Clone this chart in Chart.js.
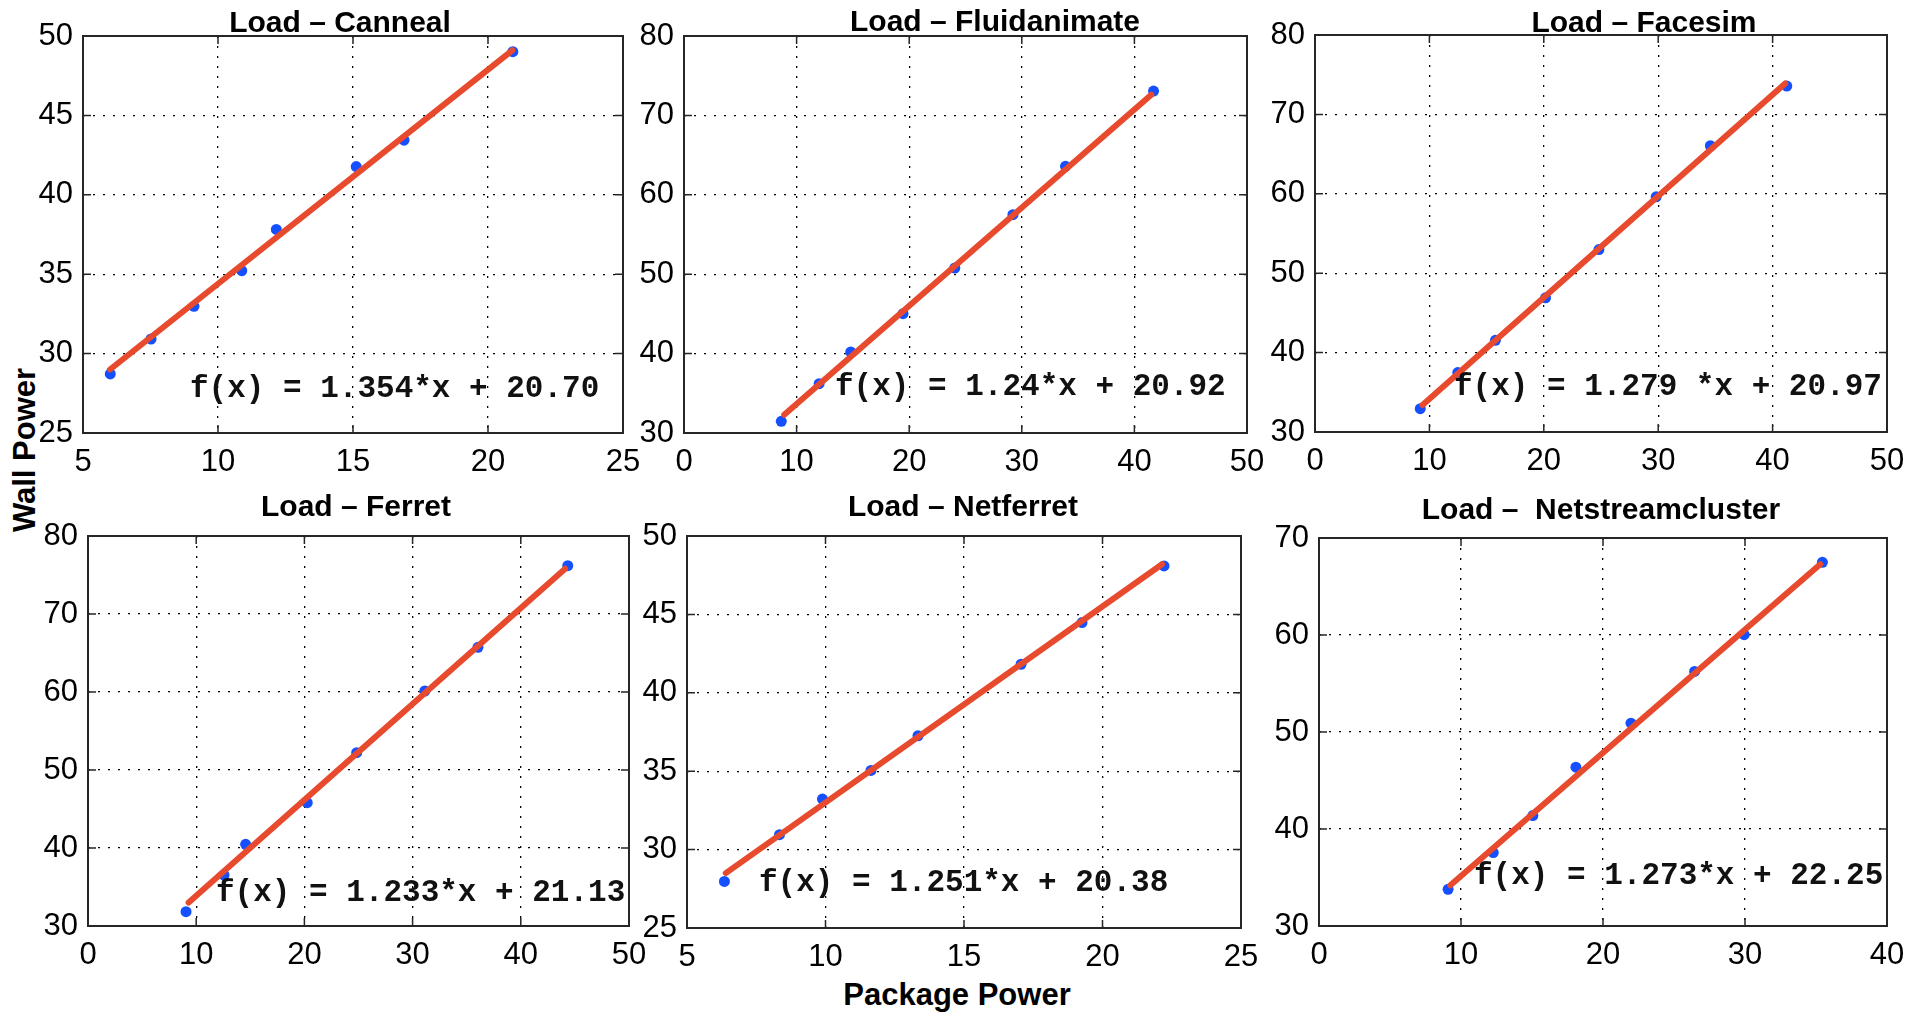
<!DOCTYPE html>
<html><head><meta charset="utf-8">
<script src="https://cdn.jsdelivr.net/npm/chart.js@4.4.1/dist/chart.umd.min.js"></script>
<style>
html,body{margin:0;padding:0;background:#fff;}
body{width:1925px;height:1013px;position:relative;overflow:hidden;}
canvas{position:absolute;}
.lbl{position:absolute;font-family:"Liberation Sans",Arial,sans-serif;font-weight:bold;font-size:31px;line-height:1;color:#000;white-space:nowrap;}
</style></head><body>
<div class="lbl" id="ylab" style="left:24px;top:450px;transform:translate(-50%,-50%) rotate(-90deg);">Wall Power</div>
<div class="lbl" id="xlab" style="left:957px;top:979px;transform:translateX(-50%);">Package Power</div>
<script>
// ---- data ----
const titles = ['Load \u2013 Canneal', 'Load \u2013 Fluidanimate', 'Load \u2013 Facesim',
                'Load \u2013 Ferret', 'Load \u2013 Netferret', 'Load \u2013  Netstreamcluster'];
const fitLabels = ['f(x) = 1.354*x + 20.70', 'f(x) = 1.24*x + 20.92', 'f(x) = 1.279 *x + 20.97',
                   'f(x) = 1.233*x + 21.13', 'f(x) = 1.251*x + 20.38', 'f(x) = 1.273*x + 22.25'];

const cannealX = [6.01, 7.52, 9.11, 10.88, 12.16, 15.12, 16.89, 20.92];
const cannealY = [28.72, 30.92, 32.98, 35.22, 37.82, 41.78, 43.44, 49.01];
const cannealFitX = [6.0, 20.9];
const cannealFitY = [29.0, 49.1];

const fluidX = [8.64, 12.0, 14.81, 19.45, 24.05, 29.21, 33.88, 41.7];
const fluidY = [31.47, 36.21, 40.2, 45.03, 50.78, 57.5, 63.59, 73.07];
const fluidFitX = [8.9, 41.5];
const fluidFitY = [32.3, 72.6];

const facesimX = [9.2, 12.48, 15.77, 20.15, 24.82, 29.82, 34.56, 41.24];
const facesimY = [32.94, 37.48, 41.55, 46.9, 52.98, 59.62, 66.05, 73.57];
const facesimFitX = [9.4, 41.1];
const facesimFitY = [33.4, 73.9];

const ferretX = [9.06, 12.57, 14.57, 20.26, 24.83, 31.13, 36.04, 44.34];
const ferretY = [31.84, 36.54, 40.47, 45.81, 52.22, 60.13, 65.73, 76.2];
const ferretFitX = [9.3, 44.1];
const ferretFitY = [33.0, 75.8];

const netferretX = [6.35, 8.34, 9.89, 11.64, 13.34, 17.06, 19.26, 22.22];
const netferretY = [27.97, 30.95, 33.22, 35.05, 37.26, 41.82, 44.48, 48.09];
const netferretFitX = [6.4, 22.15];
const netferretFitY = [28.5, 48.2];

const nscX = [9.09, 12.27, 15.06, 18.09, 21.97, 26.45, 29.94, 35.45];
const nscY = [33.78, 37.57, 41.38, 46.37, 50.91, 56.24, 60.03, 67.49];
const nscFitX = [9.25, 35.3];
const nscFitY = [34.2, 67.3];

const seriesX = [cannealX, fluidX, facesimX, ferretX, netferretX, nscX];
const seriesY = [cannealY, fluidY, facesimY, ferretY, netferretY, nscY];
const fitX = [cannealFitX, fluidFitX, facesimFitX, ferretFitX, netferretFitX, nscFitX];
const fitY = [cannealFitY, fluidFitY, facesimFitY, ferretFitY, netferretFitY, nscFitY];

const xMin = [5, 0, 0, 0, 5, 0];
const xMax = [25, 50, 50, 50, 25, 40];
const xStep = [5, 10, 10, 10, 5, 10];
const yMin = [25, 30, 30, 30, 25, 30];
const yMax = [50, 80, 80, 80, 50, 70];
const yStep = [5, 10, 10, 10, 5, 10];

// ---- layout (page pixels) ----
const layout = [
  {L: 83,   T: 36,  W: 540, H: 397, tx: 340,  ty: 32,  fx: 190,  fy: 397},
  {L: 684,  T: 36,  W: 563, H: 397, tx: 995,  ty: 31,  fx: 835,  fy: 395},
  {L: 1315, T: 35,  W: 572, H: 397, tx: 1644, ty: 32,  fx: 1454, fy: 395},
  {L: 88,   T: 536, W: 541, H: 390, tx: 356,  ty: 516, fx: 216,  fy: 901},
  {L: 687,  T: 536, W: 554, H: 392, tx: 963,  ty: 516, fx: 759,  fy: 891},
  {L: 1319, T: 538, W: 568, H: 388, tx: 1601, ty: 519, fx: 1474, fy: 884}
];
const PADL = 75, PADT = 45, PADR = 35, PADB = 65;
const SANS = '"Liberation Sans", Arial, sans-serif';
const MONO = '"Liberation Mono", "Courier New", monospace';
const TICKLEN = 8;

for (let i = 0; i < 6; i++) {
  const lay = layout[i];
  const cv = document.createElement('canvas');
  const cw = lay.W + PADL + PADR, ch = lay.H + PADT + PADB;
  const cl = lay.L - PADL, ct = lay.T - PADT;
  cv.width = cw; cv.height = ch;
  cv.style.left = cl + 'px'; cv.style.top = ct + 'px';
  cv.style.width = cw + 'px'; cv.style.height = ch + 'px';
  document.body.appendChild(cv);

  const pts = seriesX[i].map((x, k) => ({x: x, y: seriesY[i][k]}));
  const line = fitX[i].map((x, k) => ({x: x, y: fitY[i][k]}));

  const overlay = {
    id: 'overlay' + i,
    beforeDatasetsDraw(chart) {
      const ctx = chart.ctx, a = chart.chartArea;
      const xs = chart.scales.x, ys = chart.scales.y;
      ctx.save();
      ctx.strokeStyle = '#262626';
      ctx.lineWidth = 1.5;
      ctx.beginPath();
      xs.ticks.forEach(t => {
        const px = xs.getPixelForValue(t.value);
        ctx.moveTo(px, a.bottom); ctx.lineTo(px, a.bottom - TICKLEN);
        ctx.moveTo(px, a.top); ctx.lineTo(px, a.top + TICKLEN);
      });
      ys.ticks.forEach(t => {
        const py = ys.getPixelForValue(t.value);
        ctx.moveTo(a.left, py); ctx.lineTo(a.left + TICKLEN, py);
        ctx.moveTo(a.right, py); ctx.lineTo(a.right - TICKLEN, py);
      });
      ctx.stroke();
      ctx.lineWidth = 2;
      ctx.strokeRect(a.left, a.top, a.right - a.left, a.bottom - a.top);
      ctx.restore();
    },
    afterDatasetsDraw(chart) {
      const ctx = chart.ctx;
      ctx.save();
      ctx.fillStyle = '#111';
      ctx.font = 'bold 31px ' + MONO;
      ctx.textBaseline = 'alphabetic';
      ctx.textAlign = 'left';
      ctx.fillText(fitLabels[i], lay.fx - cl, lay.fy - ct);
      ctx.fillStyle = '#000';
      ctx.font = 'bold 30px ' + SANS;
      ctx.textAlign = 'center';
      ctx.fillText(titles[i], lay.tx - cl, lay.ty - ct);
      ctx.restore();
    }
  };

  new Chart(cv, {
    type: 'scatter',
    data: {
      datasets: [
        {data: line, showLine: true, borderColor: '#e84a2e', borderWidth: 6, pointRadius: 0,
         borderCapStyle: 'round', order: 0},
        {data: pts, showLine: false, pointRadius: 5.5, pointBackgroundColor: '#1450ff',
         pointBorderWidth: 0, order: 1}
      ]
    },
    options: {
      responsive: false, animation: false, devicePixelRatio: 1,
      layout: {padding: {left: 0, top: PADT, right: PADR, bottom: 0}},
      plugins: {legend: {display: false}, tooltip: {enabled: false}, title: {display: false}},
      scales: {
        x: {
          type: 'linear', min: xMin[i], max: xMax[i],
          ticks: {stepSize: xStep[i], color: '#000', font: {family: SANS, size: 31}, padding: 11,
                  maxRotation: 0, autoSkip: false},
          grid: {drawTicks: false, color: '#000', lineWidth: 1.3},
          border: {display: false, dash: [2, 8]},
          afterFit(s) { s.height = PADB; }
        },
        y: {
          type: 'linear', min: yMin[i], max: yMax[i],
          ticks: {stepSize: yStep[i], color: '#000', font: {family: SANS, size: 31}, padding: 10,
                  autoSkip: false},
          grid: {drawTicks: false, color: '#000', lineWidth: 1.3},
          border: {display: false, dash: [2, 8]},
          afterFit(s) { s.width = PADL; }
        }
      }
    },
    plugins: [overlay]
  });
}
</script>
</body></html>
